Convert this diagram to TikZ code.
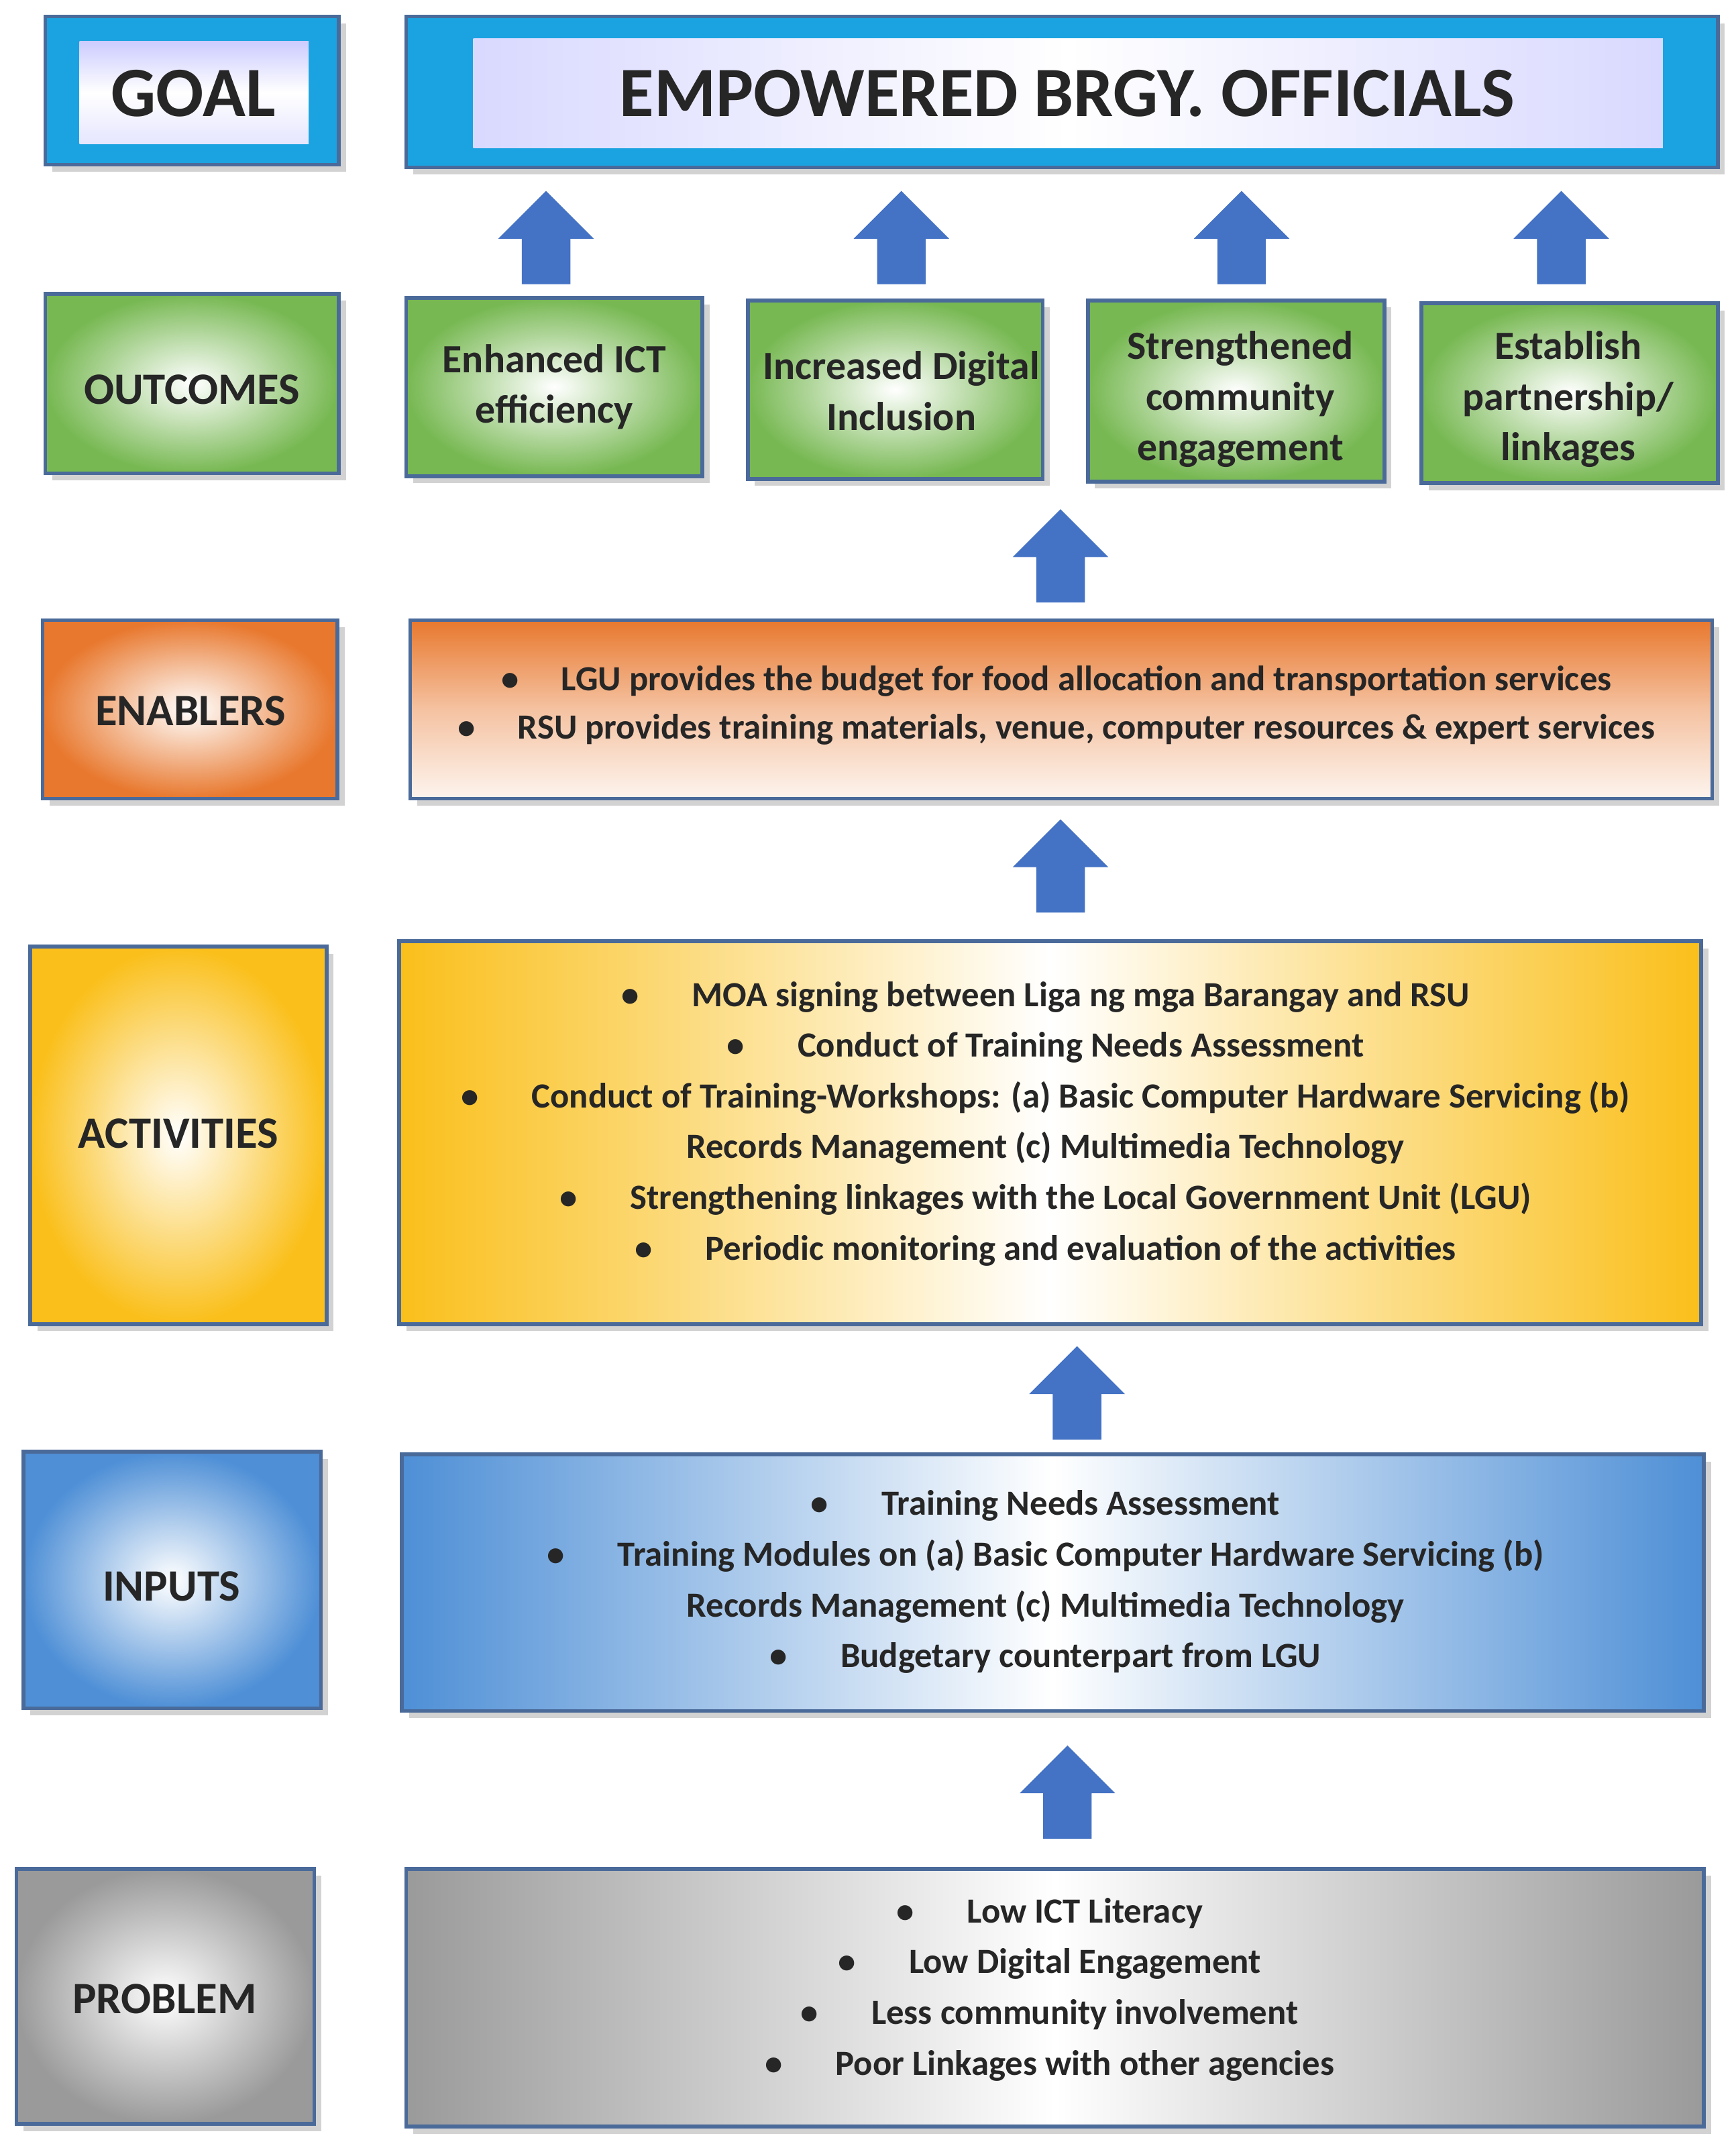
\documentclass[tikz,border=0pt]{standalone}
\usepackage{fontspec}
\setmainfont{Carlito}
\usetikzlibrary{shapes.arrows,shadows}
\begin{document}
\begin{tikzpicture}[x=0.02044cm,y=-0.02044cm,
  bx/.style={draw=#1,line width=1.6pt,drop shadow={shadow xshift=3pt,shadow yshift=-3pt,fill=gray!70}},
  lab/.style={font=\bfseries\fontsize{19}{22}\selectfont,text=black!85},
  bt/.style={font=\bfseries\fontsize{15}{20.5}\selectfont,align=center,text=black!85},
  ot/.style={font=\bfseries\fontsize{17}{21.5}\selectfont,align=center,text=black!85},
  up/.style={single arrow,draw=none,fill=arrowblue,rotate=90,minimum height=1.39cm,minimum width=1.41cm,single arrow head extend=0.35cm,inner sep=0pt,text height=0.71cm,text depth=0pt,text width=0.1cm}]
\definecolor{arrowblue}{HTML}{4472C4}
\definecolor{cyanb}{HTML}{1AA3E0}
\definecolor{gr}{HTML}{77B852}
\definecolor{orn}{HTML}{E8782E}
\definecolor{yel}{HTML}{FABF1A}
\definecolor{blu}{HTML}{4E8FD6}
\definecolor{gry}{HTML}{9A9A9A}
\definecolor{edge}{HTML}{4A6A9A}
% GOAL
\path[bx=edge,fill=cyanb] (33,12) rectangle (247,120);
\path[draw=none,top color=blue!20,bottom color=blue!10,middle color=white] (58,30) rectangle (225,105);
\node[font=\bfseries\fontsize{30}{34}\selectfont,text=black!85] (goal) at (141,68) {GOAL};
\path[bx=edge,fill=cyanb] (296,12) rectangle (1252,122);
\path[draw=none,left color=blue!15,right color=blue!15,middle color=white] (345,28) rectangle (1212,108);
\node[font=\bfseries\fontsize{30}{34}\selectfont,text=black!85] (emp) at (778,68) {EMPOWERED BRGY. OFFICIALS};
% arrows to goal
\foreach \x/\n in {398/a1,657/a2,905/a3,1138/a4}{\node[up] (\n) at (\x,182) {};}
% OUTCOMES
\foreach \a/\b/\c/\d/\n in {33/214/247/345/oc,296/217/512/347/o1,545/219/760/349/o2,793/219/1009/351/o3,1036/221/1252/352/o4}{
  \path[bx=edge,inner color=white,outer color=gr] (\a,\b) rectangle (\c,\d);}
\node[lab] (outc) at (140,284) {OUTCOMES};
\node[ot] (t1) at (404,282) {Enhanced ICT\\efficiency};
\node[ot] (t2) at (657,285) {Increased Digital\\Inclusion};
\node[ot] (t3) at (904,291) {Strengthened\\community\\engagement};
\node[ot] (t4) at (1143,291) {Establish\\partnership/\\linkages};
\node[up] (a5) at (773,414) {};
% ENABLERS
\path[bx=edge,inner color=white,outer color=orn] (31,452) rectangle (246,582);
\node[lab] (en) at (139,518) {ENABLERS};
\path[bx=edge,top color=orn,bottom color=orn!8,middle color=orn!45] (299,452) rectangle (1248,582);
\node[bt] (ent) at (770,514) {\textbullet\hspace{1.2em}LGU provides the budget for food allocation and transportation services\\ \textbullet\hspace{1.2em}RSU provides training materials, venue, computer resources \& expert services};
\node[up] (a6) at (773,640) {};
% ACTIVITIES
\path[bx=edge,inner color=white,outer color=yel] (22,690) rectangle (238,965);
\node[lab] (ac) at (130,826) {ACTIVITIES};
\path[bx=edge,left color=yel,right color=yel,middle color=white] (291,686) rectangle (1240,965);
\node[bt,font=\bfseries\fontsize{15}{21.5}\selectfont] (act) at (762,819) {\textbullet\hspace{1.5em}MOA signing between Liga ng mga Barangay and RSU\\
\textbullet\hspace{1.5em}Conduct of Training Needs Assessment\\
\textbullet\hspace{1.5em}Conduct of Training-Workshops: (a) Basic Computer Hardware Servicing (b)\\
Records Management (c) Multimedia Technology\\
\textbullet\hspace{1.5em}Strengthening linkages with the Local Government Unit (LGU)\\
\textbullet\hspace{1.5em}Periodic monitoring and evaluation of the activities};
\node[up] (a7) at (785,1024) {};
% INPUTS
\path[bx=edge,inner color=white,outer color=blu] (17,1058) rectangle (234,1245);
\node[lab] (in) at (125,1156) {INPUTS};
\path[bx=edge,left color=blu,right color=blu,middle color=white] (293,1060) rectangle (1242,1247);
\node[bt,font=\bfseries\fontsize{15}{21.5}\selectfont] (inp) at (762,1153) {\textbullet\hspace{1.5em}Training Needs Assessment\\
\textbullet\hspace{1.5em}Training Modules on (a) Basic Computer Hardware Servicing (b)\\
Records Management (c) Multimedia Technology\\
\textbullet\hspace{1.5em}Budgetary counterpart from LGU};
\node[up] (a8) at (778,1315) {};
% PROBLEM
\path[bx=edge,inner color=white,outer color=gry] (12,1362) rectangle (229,1548);
\node[lab] (pr) at (120,1457) {PROBLEM};
\path[bx=edge,left color=gry,right color=gry,middle color=white] (296,1362) rectangle (1242,1550);
\node[bt,font=\bfseries\fontsize{15}{21.5}\selectfont] (prt) at (765,1450) {\textbullet\hspace{1.5em}Low ICT Literacy\\
\textbullet\hspace{1.5em}Low Digital Engagement\\
\textbullet\hspace{1.5em}Less community involvement\\
\textbullet\hspace{1.5em}Poor Linkages with other agencies};
\pgfresetboundingbox
\useasboundingbox (0,0) rectangle (1265,1567);
\end{tikzpicture}
\end{document}
